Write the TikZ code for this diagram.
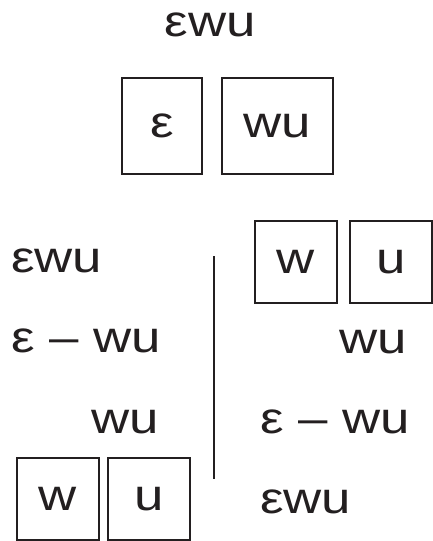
\documentclass[tikz,border=0pt]{standalone}
\usepackage{fontspec}
\setmainfont{Liberation Sans}[FakeStretch=1.2]
\definecolor{ink}{HTML}{231F20}
\begin{document}
\begin{tikzpicture}[x=1pt,y=-1pt,
  txt/.style={inner sep=0pt,text=ink,font=\fontsize{44pt}{44pt}\selectfont},
  cell/.style={txt,draw=ink,line width=2pt,minimum height=#1},
  cell/.default=96pt]
\useasboundingbox (0,0) rectangle (433,541);
% top
\node[txt,anchor=base] (top) at (210.5,36) {εwu};
\node[cell,minimum width=80pt] (b1) at (162,126) {ε};
\node[cell,minimum width=111pt] (b2) at (277.5,126) {wu};
% left column
\node[txt,anchor=base west] (l1) at (11,272) {εwu};
\node[txt,anchor=base west] (l2) at (11,352) {ε – wu};
\node[txt,anchor=base west] (l3) at (91,433) {wu};
\node[cell=82pt,minimum width=82pt] (lw) at (58,499) {w};
\node[cell=82pt,minimum width=82pt] (lu) at (149,499) {u};
% divider
\coordinate (d1) at (214,256);
\coordinate (d2) at (214,479);
\draw[ink,line width=2pt] (d1) -- (d2);
% right column
\node[cell=82pt,minimum width=82pt] (rw) at (296,262) {w};
\node[cell=82pt,minimum width=82pt] (ru) at (391,262) {u};
\node[txt,anchor=base west] (r1) at (339,353) {wu};
\node[txt,anchor=base west] (r2) at (260,433) {ε – wu};
\node[txt,anchor=base west] (r3) at (260,513) {εwu};
\end{tikzpicture}
\end{document}
